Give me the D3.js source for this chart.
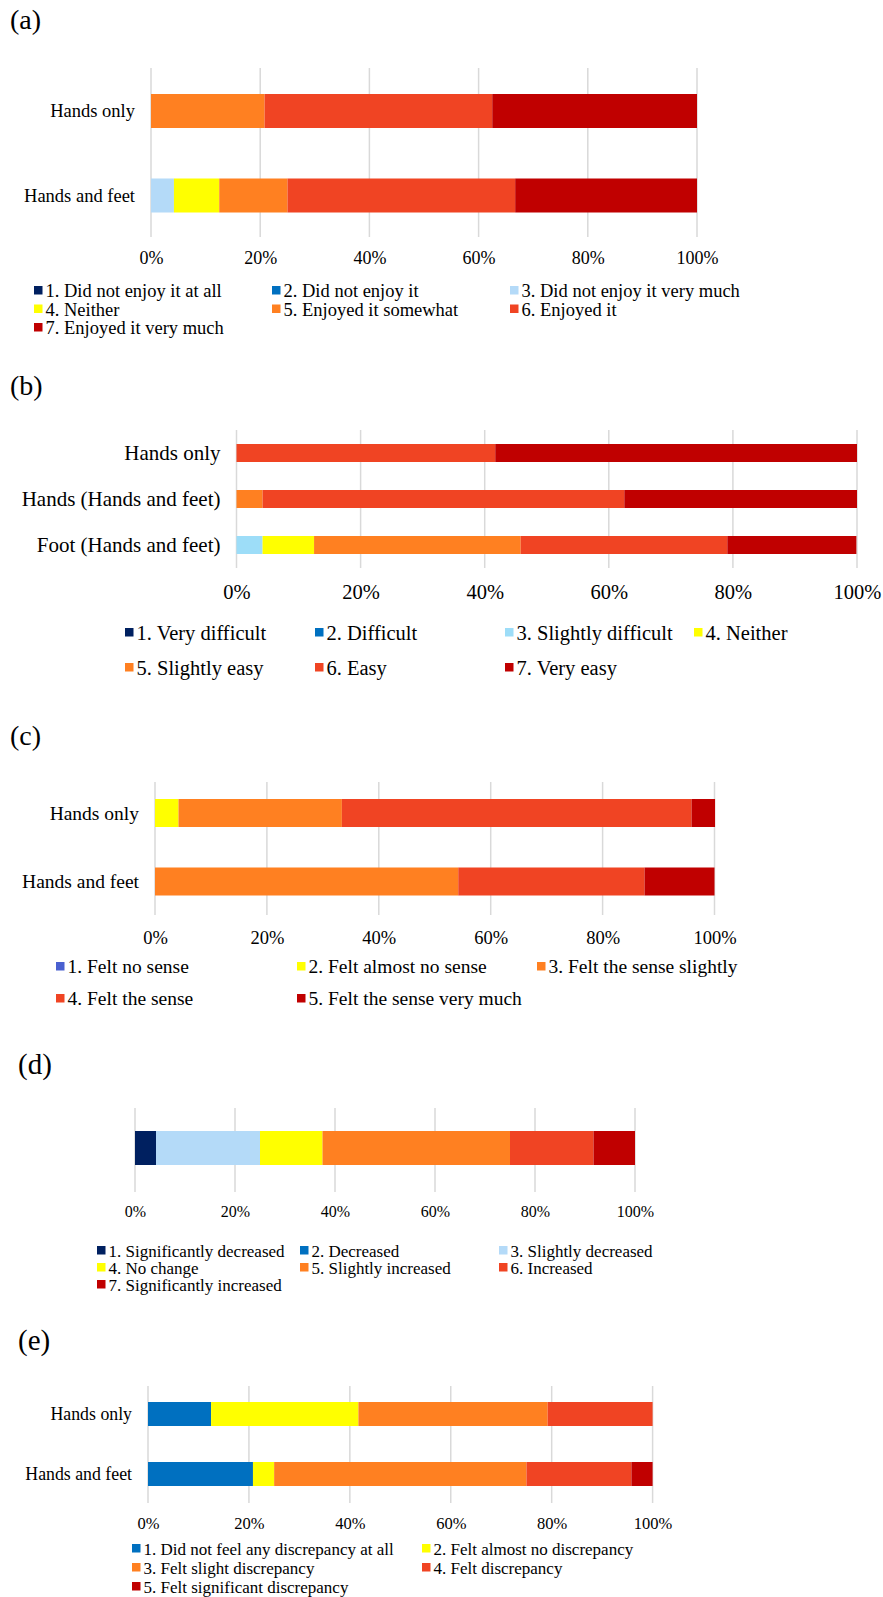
<!DOCTYPE html>
<html lang="en">
<head>
  <meta charset="utf-8">
  <title>Questionnaire results (a)-(e)</title>
  <script src="https://cdn.jsdelivr.net/npm/d3@7"></script>
<style>
body {
  margin: 0;
  background: #fff;
  font-family: "Liberation Serif", "Times New Roman", serif;
}
</style>
</head>
<body>
<script>
// ---- data (percent of respondents) ----
var aCategories = ["Hands only", "Hands and feet"];
var aLevels = ["1. Did not enjoy it at all", "2. Did not enjoy it", "3. Did not enjoy it very much",
  "4. Neither", "5. Enjoyed it somewhat", "6. Enjoyed it", "7. Enjoyed it very much"];
var aValues = [
  [0, 0, 0, 0, 20.8, 41.7, 37.5],
  [0, 0, 4.2, 8.3, 12.5, 41.7, 33.3]
];

var bCategories = ["Hands only", "Hands (Hands and feet)", "Foot (Hands and feet)"];
var bLevels = ["1. Very difficult", "2. Difficult", "3. Slightly difficult", "4. Neither",
  "5. Slightly easy", "6. Easy", "7. Very easy"];
var bValues = [
  [0, 0, 0, 0, 0, 41.7, 58.3],
  [0, 0, 0, 0, 4.2, 58.3, 37.5],
  [0, 0, 4.2, 8.3, 33.3, 33.3, 20.8]
];

var cCategories = ["Hands only", "Hands and feet"];
var cLevels = ["1. Felt no sense", "2. Felt almost no sense", "3. Felt the sense slightly",
  "4. Felt the sense", "5. Felt the sense very much"];
var cValues = [
  [0, 4.2, 29.2, 62.5, 4.2],
  [0, 0, 54.2, 33.3, 12.5]
];

var dCategories = [""];
var dLevels = ["1. Significantly decreased", "2. Decreased", "3. Slightly decreased", "4. No change",
  "5. Slightly increased", "6. Increased", "7. Significantly increased"];
var dValues = [
  [4.2, 0, 20.8, 12.5, 37.5, 16.7, 8.3]
];

var eCategories = ["Hands only", "Hands and feet"];
var eLevels = ["1. Did not feel any discrepancy at all", "2. Felt almost no discrepancy",
  "3. Felt slight discrepancy", "4. Felt discrepancy", "5. Felt significant discrepancy"];
var eValues = [
  [12.5, 29.2, 37.5, 20.8, 0],
  [20.8, 4.2, 50.0, 20.8, 4.2]
];

var tickValues = [0, 20, 40, 60, 80, 100];

// ---- colours ----
var sevenColors = ["#002060", "#0070C0", "#B4DAF8", "#FFFF00", "#FF8021", "#F04423", "#C00000"];
var sevenColorsB = ["#002060", "#0070C0", "#9DDDF8", "#FFFF00", "#FF8021", "#F04423", "#C00000"];
var fiveColorsC = ["#4A60D0", "#FFFF00", "#FF8021", "#F04423", "#C00000"];
var fiveColorsE = ["#0070C0", "#FFFF00", "#FF8021", "#F04423", "#C00000"];

var svg = d3.select("body").append("svg")
  .attr("width", 883)
  .attr("height", 1597);

// layout of each panel
var panels = [
  {tag: "(a)", tagX: 10, tagY: 22, tagSize: 28, cats: aCategories, levels: aLevels, values: aValues, colors: sevenColors,
   x0: 151, x1: 697, gridTop: 68, gridBottom: 237, firstBar: 111, lastBar: 195.5, barH: 34, catSize: 18.5,
   tickY: 258, tickSize: 18, legX: [34, 272, 510], legY: [291, 309.5, 328], legSize: 18.5},
  {tag: "(b)", tagX: 10, tagY: 388, tagSize: 28, cats: bCategories, levels: bLevels, values: bValues, colors: sevenColorsB,
   x0: 236.5, x1: 857, gridTop: 430, gridBottom: 568, firstBar: 453, lastBar: 545, barH: 18, catSize: 21,
   tickY: 592, tickSize: 20.5, legX: [125, 315, 505, 694], legY: [633, 668], legSize: 20.5},
  {tag: "(c)", tagX: 10, tagY: 738, tagSize: 28, cats: cCategories, levels: cLevels, values: cValues, colors: fiveColorsC,
   x0: 155, x1: 714.5, gridTop: 782, gridBottom: 915, firstBar: 813, lastBar: 881.5, barH: 28, catSize: 19.5,
   tickY: 938, tickSize: 18.5, legX: [56, 297, 537], legY: [967, 999], legSize: 19.5},
  {tag: "(d)", tagX: 18, tagY: 1066, tagSize: 29, cats: dCategories, levels: dLevels, values: dValues, colors: sevenColors,
   x0: 135, x1: 635, gridTop: 1108, gridBottom: 1192, firstBar: 1148, lastBar: 1148, barH: 34, catSize: 17,
   tickY: 1211, tickSize: 16, legX: [97, 300, 499], legY: [1251, 1268, 1285], legSize: 17},
  {tag: "(e)", tagX: 18, tagY: 1342, tagSize: 29, cats: eCategories, levels: eLevels, values: eValues, colors: fiveColorsE,
   x0: 148, x1: 652.6, gridTop: 1386, gridBottom: 1503, firstBar: 1414, lastBar: 1474, barH: 24, catSize: 17.8,
   tickY: 1523, tickSize: 16.5, legX: [132, 422], legY: [1549, 1568, 1587], legSize: 17}
];

panels.forEach(function(p) {
  var g = svg.append("g");

  var x = d3.scaleLinear().domain([0, 100]).range([p.x0, p.x1]);
  var y = d3.scalePoint().domain(p.cats).range([p.firstBar, p.lastBar]);

  // panel tag
  g.append("text")
    .attr("x", p.tagX)
    .attr("y", p.tagY)
    .attr("dy", "0.26em")
    .style("font-size", p.tagSize + "px")
    .text(p.tag);

  // vertical gridlines
  g.selectAll(".grid")
    .data(tickValues)
    .enter().append("line")
    .attr("x1", function(d) { return x(d); })
    .attr("x2", function(d) { return x(d); })
    .attr("y1", p.gridTop)
    .attr("y2", p.gridBottom)
    .attr("stroke", "#D9D9D9")
    .attr("stroke-width", 1.5);

  // stacked segments
  var rows = p.values.map(function(vals, i) {
    var start = 0;
    return vals.map(function(v, k) {
      var seg = {cat: p.cats[i], k: k, from: start, to: start + v};
      start += v;
      return seg;
    });
  });

  g.selectAll(".row")
    .data(rows)
    .enter().append("g")
    .selectAll("rect")
    .data(function(d) { return d.filter(function(s) { return s.to - s.from > 0; }); })
    .enter().append("rect")
    .attr("x", function(s) { return x(s.from); })
    .attr("width", function(s) { return x(s.to) - x(s.from); })
    .attr("y", function(s) { return y(s.cat) - p.barH / 2; })
    .attr("height", p.barH)
    .attr("fill", function(s) { return p.colors[s.k]; });

  // category labels
  g.selectAll(".cat")
    .data(p.cats)
    .enter().append("text")
    .attr("x", p.x0 - 16)
    .attr("y", function(d) { return y(d); })
    .attr("dy", "0.35em")
    .attr("text-anchor", "end")
    .style("font-size", p.catSize + "px")
    .text(function(d) { return d; });

  // x axis tick labels
  var axis = g.append("g")
    .attr("transform", "translate(0," + p.tickY + ")")
    .call(d3.axisBottom(x)
      .tickValues(tickValues)
      .tickSize(0)
      .tickPadding(0)
      .tickFormat(function(d) { return d + "%"; }));
  axis.select(".domain").remove();
  axis.selectAll("text")
    .attr("y", 0)
    .attr("dy", "0.35em")
    .attr("fill", "#000")
    .style("font-family", "'Liberation Serif', 'Times New Roman', serif")
    .style("font-size", p.tickSize + "px");

  // legend
  var ncol = p.legX.length;
  var item = g.selectAll(".leg")
    .data(p.levels)
    .enter().append("g")
    .attr("transform", function(d, i) {
      return "translate(" + p.legX[i % ncol] + "," + p.legY[Math.floor(i / ncol)] + ")";
    });
  item.append("rect")
    .attr("x", 0)
    .attr("y", -5)
    .attr("width", 8.5)
    .attr("height", 8.5)
    .attr("fill", function(d, i) { return p.colors[i]; });
  item.append("text")
    .attr("x", 11.5)
    .attr("y", 0)
    .attr("dy", "0.33em")
    .style("font-size", p.legSize + "px")
    .text(function(d) { return d; });
});
</script>
</body>
</html>
